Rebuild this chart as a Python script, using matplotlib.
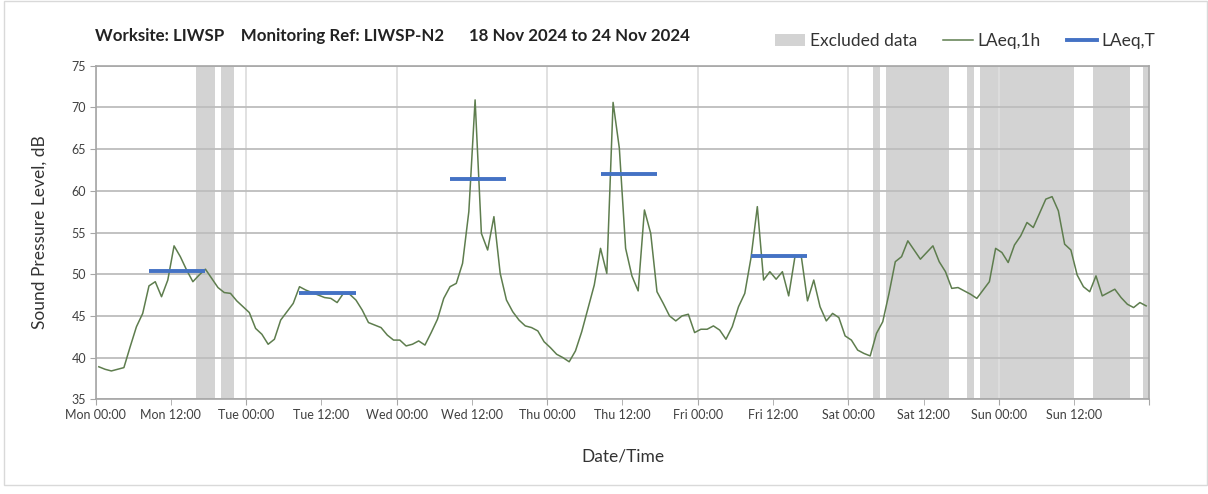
import matplotlib
matplotlib.use("Agg")
import matplotlib.pyplot as plt
from matplotlib.ticker import MultipleLocator, FuncFormatter
from matplotlib.patches import Rectangle, Patch
from matplotlib.lines import Line2D
import numpy as np

plt.rcParams['font.family'] = ['Lato', 'DejaVu Sans']

title = "Worksite: LIWSP    Monitoring Ref: LIWSP-N2      18 Nov 2024 to 24 Nov 2024"
days = ["Mon", "Tue", "Wed", "Thu", "Fri", "Sat", "Sun"]

# hourly LAeq,1h values, Mon 00:00 .. Sun 23:00 (plotted at mid-hour)
laeq_1h = [
    38.9, 38.6, 38.4, 38.6, 38.8, 41.3, 43.7, 45.3, 48.6, 49.1, 47.3, 49.3,
    53.4, 52.1, 50.5, 49.1, 49.9, 50.6, 49.5, 48.4, 47.8, 47.7, 46.8, 46.1,
    45.4, 43.5, 42.8, 41.6, 42.2, 44.5, 45.5, 46.5, 48.5, 48.1, 47.8, 47.5,
    47.2, 47.1, 46.6, 47.7, 47.6, 46.9, 45.7, 44.2, 43.9, 43.6, 42.7, 42.1,
    42.1, 41.4, 41.6, 42.0, 41.5, 43.0, 44.6, 47.1, 48.5, 48.9, 51.3, 57.5,
    70.9, 54.9, 52.9, 56.9, 50.1, 46.9, 45.5, 44.5, 43.8, 43.6, 43.2, 41.9,
    41.2, 40.4, 40.0, 39.5, 40.8, 43.1, 45.9, 48.7, 53.1, 50.1, 70.6, 65.1,
    53.1, 49.8, 48.0, 57.7, 54.9, 47.9, 46.5, 45.0, 44.4, 45.0, 45.2, 43.0,
    43.4, 43.4, 43.8, 43.3, 42.2, 43.7, 46.1, 47.7, 52.0, 58.1, 49.3, 50.3,
    49.4, 50.3, 47.4, 52.1, 52.2, 46.8, 49.3, 46.1, 44.4, 45.3, 44.8, 42.6,
    42.1, 40.9, 40.5, 40.2, 42.9, 44.3, 47.7, 51.5, 52.1, 54.0, 52.9, 51.8,
    52.6, 53.4, 51.5, 50.3, 48.3, 48.4, 48.0, 47.6, 47.1, 48.1, 49.1, 53.1,
    52.6, 51.4, 53.5, 54.6, 56.2, 55.6, 57.3, 59.0, 59.3, 57.6, 53.6, 52.9,
    49.9, 48.5, 47.9, 49.8, 47.4, 47.8, 48.2, 47.2, 46.4, 46.0, 46.6, 46.2,
]
hours = np.arange(len(laeq_1h)) + 0.5

# LAeq,T over each daytime period (hour centres)
period_start = [8.5, 32.5, 56.5, 80.5, 104.5]
period_end = [17.5, 41.5, 65.5, 89.5, 113.5]
laeq_t = [50.4, 47.7, 61.45, 62.05, 52.2]

# excluded data spans (hours from Mon 00:00)
excl_start = [16, 20, 124, 126, 139, 141, 159, 167]
excl_end = [19, 22, 125, 136, 140, 156, 165, 168]

green = '#5e7d4e'
blue = '#4472c4'
band = '#d3d3d3'

fig = plt.figure(figsize=(12.08, 4.94), dpi=100)
ax = fig.add_axes([0.0792, 0.1917, 0.8722, 0.6753])
fig.patches.append(Rectangle((4 / 1208, 0.018), 1 - 5 / 1208, 0.98, transform=fig.transFigure,
                             fill=False, edgecolor='#d9d9d9', lw=1))

for s, e in zip(excl_start, excl_end):
    ax.axvspan(s, e, color=band, lw=0, zorder=0.2)

ax.plot(hours, laeq_1h, color=green, lw=1.1, zorder=3)
ax.hlines(laeq_t, period_start, period_end, color=blue, lw=2.8, zorder=4)

ax.set_xlim(0, 168)
ax.set_ylim(35, 75)
ax.yaxis.set_major_locator(MultipleLocator(5))
ax.xaxis.set_major_locator(MultipleLocator(24))
ax.xaxis.set_minor_locator(MultipleLocator(12))


def fmt(x, pos):
    i = int(round(x))
    if i >= 168:
        return ''
    return "{0} {1:02d}:00".format(days[i // 24], i % 24)


ax.xaxis.set_major_formatter(FuncFormatter(fmt))
ax.xaxis.set_minor_formatter(FuncFormatter(fmt))

ax.set_axisbelow(True)
ax.yaxis.grid(True, color='#bdbdbd', lw=1.3, zorder=0.5)
ax.xaxis.grid(True, which='major', color='#dedede', lw=1.3, zorder=0.5)

for sp in ax.spines.values():
    sp.set_color('#a6a6a6')
    sp.set_linewidth(1.2)

ax.tick_params(axis='both', which='both', direction='out', length=4, color='#a6a6a6',
               labelsize=9, labelcolor='#404040', pad=3)

ax.set_ylabel("Sound Pressure Level, dB", fontsize=12.5, color='#333333', labelpad=17)
ax.set_xlabel("Date/Time", fontsize=12.5, color='#333333', labelpad=20)

fig.text(0.0787, 0.927, title, fontsize=12.2, fontweight='bold', color='#222222',
         ha='left', va='center')

handles = [Patch(facecolor=band, edgecolor='none'),
           Line2D([], [], color=green, lw=1.1),
           Line2D([], [], color=blue, lw=2.8)]
fig.legend(handles, ["Excluded data", "LAeq,1h", "LAeq,T"], loc='center right',
           bbox_to_anchor=(0.9695, 0.917), ncol=3, frameon=False, fontsize=12.5,
           handlelength=1.7, handletextpad=0.3, columnspacing=1.5, labelcolor='#333333')

fig.savefig("out.png", dpi=100)
